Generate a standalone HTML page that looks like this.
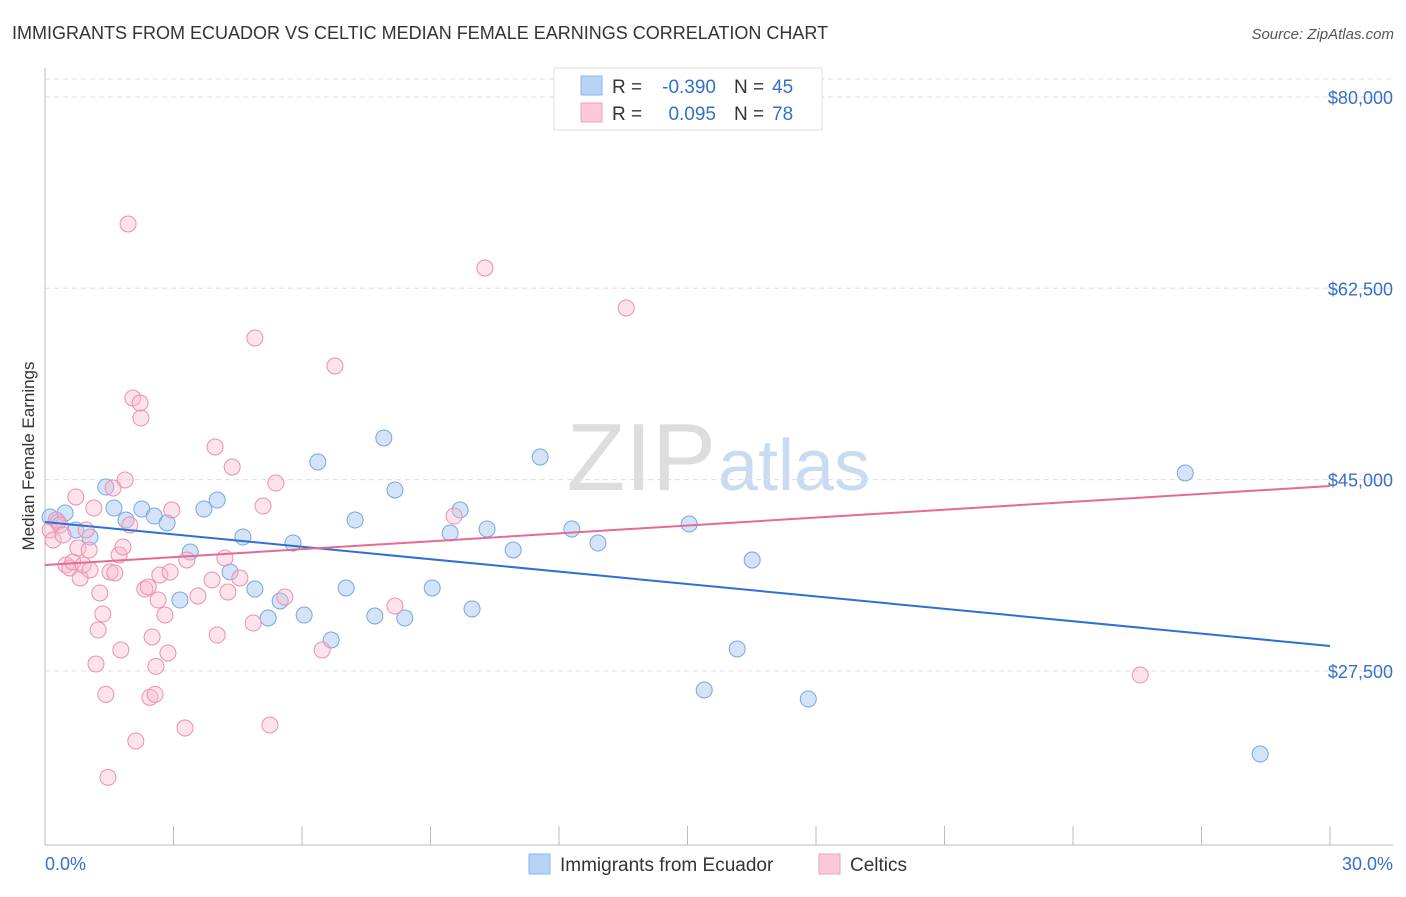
<!DOCTYPE html>
<html><head><meta charset="utf-8"><style>
body{margin:0;background:#fff;font-family:"Liberation Sans",sans-serif;}
svg text{font-family:"Liberation Sans",sans-serif;}
</style></head><body>
<svg id="c" width="1406" height="892">
<text x="12" y="39" font-size="18" fill="#333">IMMIGRANTS FROM ECUADOR VS CELTIC MEDIAN FEMALE EARNINGS CORRELATION CHART</text>
<text x="1394" y="39" font-size="15" fill="#555" font-style="italic" text-anchor="end">Source: ZipAtlas.com</text>
<text x="34" y="456" font-size="17" fill="#333" text-anchor="middle" transform="rotate(-90 34 456)">Median Female Earnings</text>
<text x="716" y="490" font-size="96" fill="#ddd" text-anchor="end" font-family="Liberation Serif">ZIP</text>
<text x="718" y="490" font-size="72" fill="#c9dbf2">atlas</text>
<g id="grid"></g><g id="pts"></g><g id="trend"></g>
<g>
<rect x="554" y="68" width="268" height="62" fill="#fff" stroke="#ddd"/>
<rect x="581" y="76" width="21" height="19" fill="#b8d3f5" stroke="#8fb4e8"/>
<rect x="581" y="103" width="21" height="19" fill="#fbc9d8" stroke="#f0a0ba"/>
<text x="612" y="93" font-size="19" fill="#333">R =</text>
<text x="716" y="93" font-size="19" fill="#3470c9" text-anchor="end">-0.390</text>
<text x="734" y="93" font-size="19" fill="#333">N =</text>
<text x="772" y="93" font-size="19" fill="#3470c9">45</text>
<text x="612" y="120" font-size="19" fill="#333">R =</text>
<text x="716" y="120" font-size="19" fill="#3470c9" text-anchor="end">0.095</text>
<text x="734" y="120" font-size="19" fill="#333">N =</text>
<text x="772" y="120" font-size="19" fill="#3470c9">78</text>
</g>
<g>
<rect x="529" y="854" width="21" height="20" fill="#b8d3f5" stroke="#8fb4e8"/>
<text x="560" y="871" font-size="19" fill="#333">Immigrants from Ecuador</text>
<rect x="819" y="854" width="21" height="20" fill="#fbc9d8" stroke="#f0a0ba"/>
<text x="850" y="871" font-size="19" fill="#333">Celtics</text>
</g>
<text x="45" y="870" font-size="18" fill="#3470c9">0.0%</text>
<text x="1393" y="870" font-size="18" fill="#3470c9" text-anchor="end">30.0%</text>
</svg>
<script>
const yTicks=[80000,62500,45000,27500];
const yTickLabels=["$80,000","$62,500","$45,000","$27,500"];
const xTicks=[0,3,6,9,12,15,18,21,24,27,30];
const blueX=[0.12,0.30,0.47,0.72,1.05,1.42,1.61,1.89,2.26,2.55,2.85,3.15,3.39,3.71,4.02,4.32,4.62,4.90,5.21,5.49,5.79,6.05,6.37,6.68,7.03,7.24,7.70,7.91,8.17,8.40,9.04,9.46,9.69,9.97,10.32,10.93,11.56,12.30,12.91,15.04,15.39,16.16,16.51,17.82,26.62,28.37];
const blueY=[41578,41120,41944,40389,39748,44322,42401,41303,42309,41669,41029,33985,38376,42309,43132,36547,39748,34991,32339,33894,39199,32612,46610,30326,35083,41303,32522,48805,44048,32339,35083,40115,42219,33162,40481,38560,47067,40481,39199,40938,25752,29503,37645,24929,45604,19898];
const pinkX=[0.12,0.19,0.26,0.35,0.42,0.49,0.58,0.65,0.72,0.77,0.82,0.89,0.96,1.03,1.05,1.14,1.19,1.24,1.28,1.35,1.42,1.47,1.52,1.59,1.63,1.73,1.77,1.82,1.87,1.94,1.98,2.05,2.12,2.22,2.24,2.33,2.41,2.45,2.50,2.57,2.59,2.64,2.68,2.80,2.87,2.92,2.96,3.27,3.31,3.57,3.90,3.97,4.02,4.20,4.27,4.37,4.55,4.86,4.90,5.09,5.25,5.39,5.60,6.47,6.77,8.17,9.55,10.27,13.57,25.57];
const pinkY=[40389,39474,41303,40847,39931,37187,36913,37462,43408,38742,35998,37187,40389,38558,36730,42401,28130,31240,34626,32704,25357,17764,36547,44231,36455,38102,29412,38834,44963,68382,40847,52465,21085,52007,50635,34991,35175,25082,30606,25357,27918,33985,36273,32613,29137,36547,42219,22277,37645,34351,35815,47982,30783,37828,34717,46152,35998,31881,57953,42584,22551,44688,34260,29412,55392,33436,41669,64357,60698,27124];
const blueTrend=[41120,29777];
const pinkTrend=[37187,44414];
const NS="http://www.w3.org/2000/svg";
const sx=v=>45+v/30*1285;
const sy=v=>97+(80000-v)/17500*191.3;
function mk(tag,attrs,parent){const e=document.createElementNS(NS,tag);for(const k in attrs)e.setAttribute(k,attrs[k]);document.getElementById(parent).appendChild(e);return e;}
yTicks.forEach((t,i)=>{
 const l=mk('line',{x1:45,x2:1393,y1:sy(t),y2:sy(t),stroke:'#ddd','stroke-dasharray':'5,4'},'grid');
 
 
 const tx=mk('text',{x:1393,y:sy(t)+7,'font-size':18,fill:'#3470c9','text-anchor':'end'},'grid');
 tx.textContent=yTickLabels[i];
 
 
});
const topLine=mk('line',{x1:45,x2:1393,y1:79,y2:79,stroke:'#ddd','stroke-dasharray':'5,4'},'grid');


const xAxisLine=mk('line',{x1:45,x2:1393,y1:845,y2:845,stroke:'#bbb'},'grid');


const yAxisLine=mk('line',{x1:45,x2:45,y1:68,y2:845,stroke:'#bbb'},'grid');


xTicks.forEach(t=>{
 const l=mk('line',{x1:sx(t),x2:sx(t),y1:826,y2:845,stroke:'#bbb'},'grid');
 
 
});
blueX.forEach((x,i)=>{
 const c=mk('circle',{cx:sx(x),cy:sy(blueY[i]),r:8,fill:'rgba(160,195,240,0.45)',stroke:'#7aa6e0','stroke-width':1},'pts');
 
 
});
pinkX.forEach((x,i)=>{
 const c=mk('circle',{cx:sx(x),cy:sy(pinkY[i]),r:8,fill:'rgba(250,185,205,0.4)',stroke:'#ec8fae','stroke-width':1},'pts');
 
 
});
const bl=mk('line',{x1:sx(0),x2:sx(30),y1:sy(blueTrend[0]),y2:sy(blueTrend[1]),stroke:'#2f6fd6','stroke-width':2},'trend');


const pl=mk('line',{x1:sx(0),x2:sx(30),y1:sy(pinkTrend[0]),y2:sy(pinkTrend[1]),stroke:'#e46b95','stroke-width':2},'trend');


</script>
</body></html>
